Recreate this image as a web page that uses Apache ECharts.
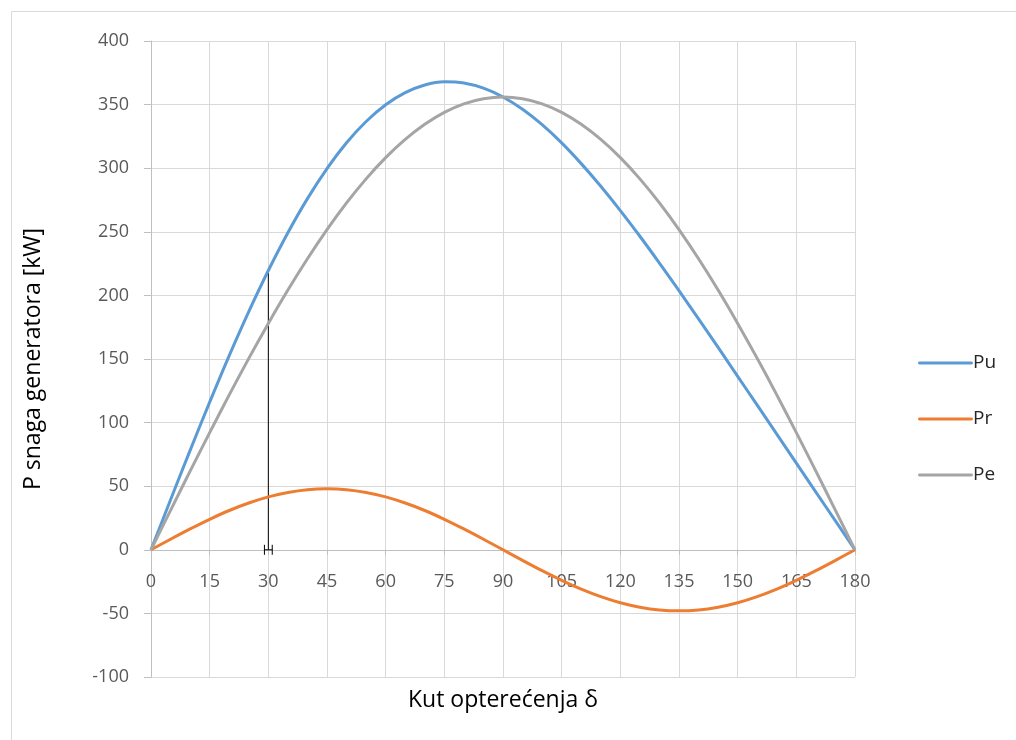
<!DOCTYPE html>
<html>
<head>
<meta charset="utf-8">
<script src="https://cdn.jsdelivr.net/npm/echarts@6/dist/echarts.min.js"></script>
<style>
html,body{margin:0;padding:0;background:#fff;}
#chart{width:1016px;height:740px;}
</style>
</head>
<body>
<div id="chart"></div>
<script>
// Load angle δ (degrees)
const degrees = [0,5,10,15,20,25,30,35,40,45,50,55,60,65,70,75,80,85,90,95,100,105,110,115,120,125,130,135,140,145,150,155,160,165,170,175,180];
// Pu
const puValues = [0,39.3,78.2,116.1,152.7,187.3,219.6,249.3,276.1,299.7,320.0,336.7,349.9,359.4,365.4,367.9,367.0,362.9,356.0,346.3,334.2,319.9,303.6,285.8,266.7,246.5,225.4,203.7,181.5,159.1,136.4,113.7,90.9,68.1,45.4,22.7,0];
// Pr
const prValues = [0,8.3,16.4,24.0,30.9,36.8,41.6,45.1,47.3,48.0,47.3,45.1,41.6,36.8,30.9,24.0,16.4,8.3,0,-8.3,-16.4,-24.0,-30.9,-36.8,-41.6,-45.1,-47.3,-48.0,-47.3,-45.1,-41.6,-36.8,-30.9,-24.0,-16.4,-8.3,0];
// Pe
const peValues = [0,31.0,61.8,92.1,121.8,150.5,178.0,204.2,228.8,251.7,272.7,291.6,308.3,322.6,334.5,343.9,350.6,354.6,356.0,354.6,350.6,343.9,334.5,322.6,308.3,291.6,272.7,251.7,228.8,204.2,178.0,150.5,121.8,92.1,61.8,31.0,0];
// marker at δ = 30
const markerLine = [[30, 0], [30, 220]];
const markerErr = [[30, 0, 29, 31]];

const seriesNames = ['Pu', 'Pr', 'Pe'];
const colors = ['#5B9BD5', '#ED7D31', '#A5A5A5'];
const yMin = -100, yMax = 400;

const pair = (xs, ys) => xs.map((x, i) => [x, ys[i]]);
const FONT = '"Open Sans", "Noto Sans", sans-serif';

const GRID = {left: 151, right: 161, top: 41, bottom: 63};
const plotH = 740 - GRID.top - GRID.bottom;
// shift the x axis up so that it sits on y = 0 (Excel "axis crosses at 0")
const xAxisOffset = -plotH * (0 - yMin) / (yMax - yMin);

const chart = echarts.init(document.getElementById('chart'), null, {renderer: 'canvas'});
chart.setOption({
  animation: false,
  backgroundColor: '#fff',
  textStyle: {fontFamily: FONT},
  graphic: [{
    type: 'rect', z: -10, silent: true,
    shape: {x: 11.5, y: 11.5, width: 1200, height: 1000},
    style: {fill: 'none', stroke: '#D9D9D9', lineWidth: 1}
  }],
  grid: Object.assign({containLabel: false, outerBoundsMode: 'none'}, GRID),
  legend: {
    orient: 'vertical', left: 913, top: 347,
    icon: 'path://M1.5,0 L54.5,0 A1.5,1.5 0 0 1 54.5,3 L1.5,3 A1.5,1.5 0 0 1 1.5,0 Z',
    itemWidth: 55, itemHeight: 3, itemGap: 34,
    data: seriesNames,
    textStyle: {fontSize: 19, lineHeight: 22, color: '#262626', fontFamily: FONT, padding: [0,0,0,-5]}
  },
  xAxis: {
    type: 'value', min: 0, max: 180, interval: 15,
    position: 'bottom', offset: xAxisOffset,
    name: 'Kut opterećenja δ', nameLocation: 'middle', nameGap: 139,
    nameTextStyle: {fontSize: 23, color: '#000', fontFamily: FONT},
    axisLine: {onZero: false, lineStyle: {color: '#BFBFBF', width: 1}},
    axisTick: {show: true, length: 5, lineStyle: {color: '#BFBFBF'}},
    axisLabel: {fontSize: 18, color: '#595959', margin: 23, fontFamily: FONT},
    splitLine: {show: true, lineStyle: {color: '#D9D9D9', width: 1}}
  },
  yAxis: {
    type: 'value', min: yMin, max: yMax, interval: 50,
    name: 'P snaga generatora [kW]', nameLocation: 'middle', nameGap: 106,
    nameTextStyle: {fontSize: 23, color: '#000', fontFamily: FONT},
    axisLine: {show: true, onZero: false, lineStyle: {color: '#BFBFBF', width: 1}},
    axisTick: {show: true, length: 7, lineStyle: {color: '#BFBFBF'}},
    axisLabel: {fontSize: 18, color: '#595959', margin: 22, fontFamily: FONT},
    splitLine: {show: true, lineStyle: {color: '#D9D9D9', width: 1}}
  },
  series: [
    {
      name: 'marker', type: 'line', data: markerLine, symbol: 'none',
      lineStyle: {color: '#000', width: 1}, z: 1, silent: true
    },
    {
      name: 'markerErr', type: 'custom', data: markerErr, z: 5, silent: true,
      renderItem: function (params, api) {
        const y = api.value(1);
        const a = api.coord([api.value(2), y]);
        const b = api.coord([api.value(3), y]);
        const h = 5;
        return {
          type: 'group',
          children: [
            {type: 'line', shape: {x1: a[0], y1: a[1], x2: b[0], y2: b[1]}, style: {stroke: '#000', lineWidth: 1}},
            {type: 'line', shape: {x1: a[0], y1: a[1] - h, x2: a[0], y2: a[1] + h}, style: {stroke: '#000', lineWidth: 1}},
            {type: 'line', shape: {x1: b[0], y1: b[1] - h, x2: b[0], y2: b[1] + h}, style: {stroke: '#000', lineWidth: 1}}
          ]
        };
      }
    },
    {
      name: 'Pu', type: 'line', data: pair(degrees, puValues), symbol: 'none', smooth: 0.3,
      color: colors[0], lineStyle: {color: colors[0], width: 3}, z: 3
    },
    {
      name: 'Pr', type: 'line', data: pair(degrees, prValues), symbol: 'none', smooth: 0.3,
      color: colors[1], lineStyle: {color: colors[1], width: 3}, z: 3
    },
    {
      name: 'Pe', type: 'line', data: pair(degrees, peValues), symbol: 'none', smooth: 0.3,
      color: colors[2], lineStyle: {color: colors[2], width: 3}, z: 3
    }
  ]
});
</script>
</body>
</html>
